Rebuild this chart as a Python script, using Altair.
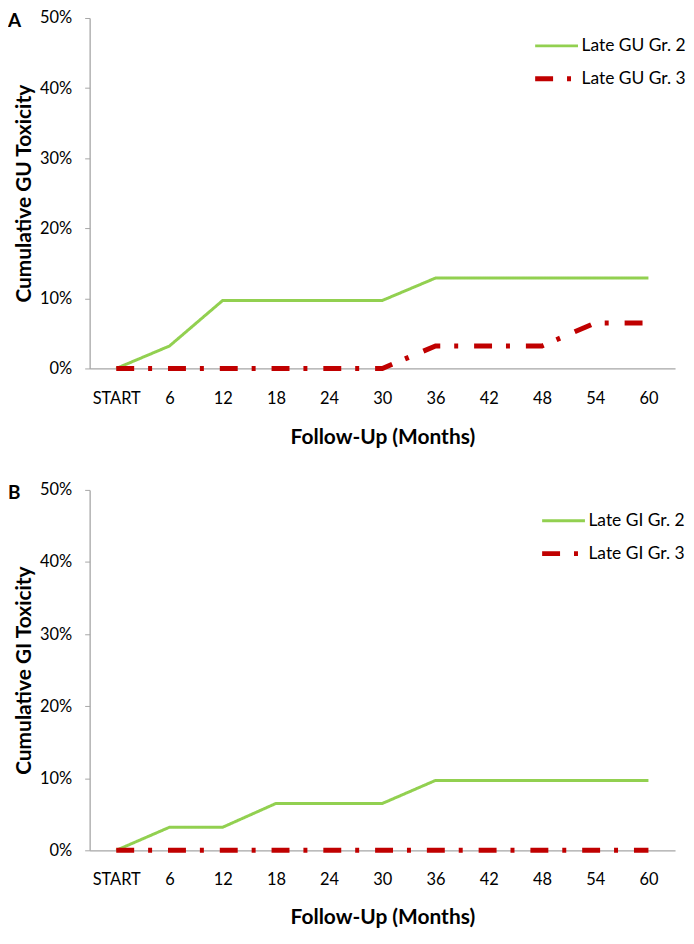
import altair as alt
import pandas as pd

months = ["START", "6", "12", "18", "24", "30", "36", "42", "48", "54", "60"]

# Panel A (GU), cumulative % toxicity
gu_gr2 = [0, 3.2, 9.7, 9.7, 9.7, 9.7, 12.9, 12.9, 12.9, 12.9, 12.9]
gu_gr3 = [0, 0, 0, 0, 0, 0, 3.2, 3.2, 3.2, 6.5, 6.5]

# Panel B (GI), cumulative % toxicity
gi_gr2 = [0, 3.2, 3.2, 6.5, 6.5, 6.5, 9.7, 9.7, 9.7, 9.7, 9.7]
gi_gr3 = [0, 0, 0, 0, 0, 0, 0, 0, 0, 0, 0]

y_ticks = [0, 0.1, 0.2, 0.3, 0.4, 0.5]

GREEN = "#92D050"
RED = "#C00000"
FONT = "Lato"


def panel(s2, s3, name2, name3, ytitle, letter, h, legend_x, legend_y, row_pad,
          lab_pad, title_pad):
    df = pd.DataFrame({
        "month": months * 2,
        "value": [v / 100 for v in s2 + s3],
        "series": [name2] * len(months) + [name3] * len(months),
    })
    dom = [name2, name3]
    leg = alt.Legend(
        title=None, orient="none", legendX=legend_x, legendY=legend_y,
        symbolSize=1849, symbolType="stroke", labelFont=FONT, labelFontSize=17.5,
        labelColor="black", labelOffset=1, rowPadding=row_pad, padding=0,
    )
    lines = alt.Chart(df).mark_line(strokeCap="butt").encode(
        x=alt.X("month:N", sort=months,
                scale=alt.Scale(type="point", padding=0.5),
                axis=alt.Axis(title="Follow-Up (Months)", labelAngle=0, ticks=False,
                              tickSize=0, labelPadding=lab_pad, titlePadding=title_pad)),
        y=alt.Y("value:Q", scale=alt.Scale(domain=[0, 0.5]),
                axis=alt.Axis(title=ytitle, format=".0%", values=y_ticks,
                              tickSize=5, labelPadding=13, titlePadding=5)),
        color=alt.Color("series:N", sort=dom,
                        scale=alt.Scale(domain=dom, range=[GREEN, RED]), legend=leg),
        strokeDash=alt.StrokeDash("series:N", sort=dom,
                                  scale=alt.Scale(domain=dom, range=[[1, 0], [18, 14, 4, 16]]),
                                  legend=leg),
        strokeWidth=alt.StrokeWidth("series:N", sort=dom,
                                    scale=alt.Scale(type="ordinal", domain=dom, range=[3, 5]),
                                    legend=leg),
    )
    label = alt.Chart(pd.DataFrame({"t": [letter]})).mark_text(
        align="left", baseline="middle", fontSize=19, fontWeight="bold",
        font=FONT, color="black",
    ).encode(x=alt.value(-82), y=alt.value(3), text="t:N")
    return alt.layer(lines, label).properties(width=588, height=h)


a = panel(gu_gr2, gu_gr3, "Late GU Gr. 2", "Late GU Gr. 3",
          "Cumulative GU Toxicity", "A", 352, 445, 5, -4, 22, 20)
b = panel(gi_gr2, gi_gr3, "Late GI Gr. 2", "Late GI Gr. 3",
          "Cumulative GI Toxicity", "B", 362, 452, 8, 0, 21, 19)

chart = alt.vconcat(a, b, spacing=34).resolve_scale(
    x="independent", y="independent", color="independent",
    strokeDash="independent", strokeWidth="independent",
).resolve_legend(
    color="independent", strokeDash="independent", strokeWidth="independent",
).properties(
    padding=0, background="white",
).configure_view(
    stroke=None,
).configure_axis(
    labelFont=FONT, titleFont=FONT, labelColor="black", titleColor="black",
    labelFontSize=16.5, titleFontSize=21, titleFontWeight="bold",
    domainColor="#A6A6A6", tickColor="#A6A6A6", grid=False, domainWidth=1.3,
)

chart.save("out.html", embed_options={"renderer": "svg", "actions": False})
